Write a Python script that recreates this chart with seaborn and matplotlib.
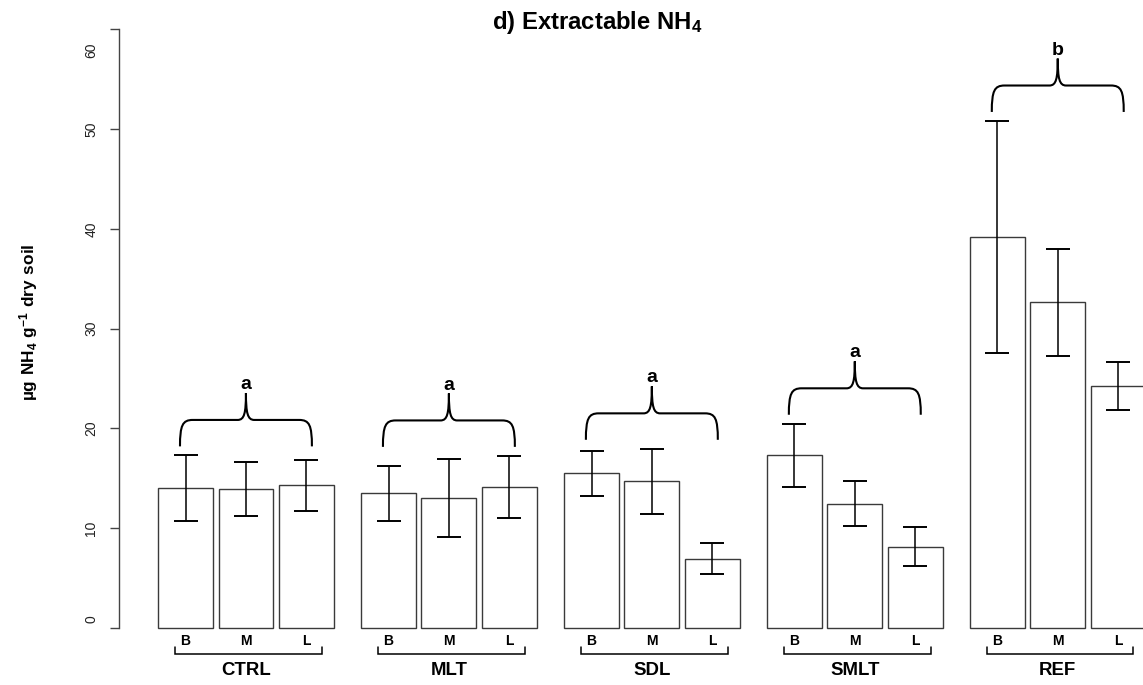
import numpy as np
import pandas as pd
import matplotlib
matplotlib.use("Agg")
import matplotlib.pyplot as plt
import matplotlib.transforms as mtransforms
from matplotlib.path import Path
from matplotlib.patches import PathPatch
import seaborn as sns

# Extractable NH4 by treatment and slope position (mean ± error)
treatments = ["CTRL", "MLT", "SDL", "SMLT", "REF"]
positions = ["B", "M", "L"]
mean_B = [14.0, 13.5, 15.5, 17.3, 39.2]
mean_M = [13.9, 13.05, 14.7, 12.45, 32.65]
mean_L = [14.3, 14.15, 6.95, 8.15, 24.25]
err_B = [3.3, 2.77, 2.24, 3.17, 11.62]
err_M = [2.72, 3.9, 3.26, 2.25, 5.38]
err_L = [2.55, 3.1, 1.55, 1.92, 2.4]
letters = ["a", "a", "a", "a", "b"]
y_ticks = [0, 10, 20, 30, 40, 50, 60]

means = {"B": mean_B, "M": mean_M, "L": mean_L}
errs = {"B": err_B, "M": err_M, "L": err_L}
df = pd.DataFrame(
    [(t, p, means[p][i]) for p in positions for i, t in enumerate(treatments)],
    columns=["treatment", "position", "value"],
)

sns.set_theme(style="white")
plt.rcParams["font.family"] = ["Liberation Sans", "DejaVu Sans"]
plt.rcParams["text.color"] = "black"
plt.rcParams["mathtext.fontset"] = "custom"
plt.rcParams["mathtext.rm"] = "Liberation Sans"
plt.rcParams["mathtext.bf"] = "Liberation Sans:bold"
plt.rcParams["mathtext.default"] = "bf"

W, H = 1143, 685
fig = plt.figure(figsize=(W / 100, H / 100), dpi=100)
ax = fig.add_axes([118.7 / W, (H - 651.9) / H, 1 - 118.7 / W, (651.9 - 5.4) / H])

sns.barplot(
    data=df, x="treatment", y="value", hue="position",
    order=treatments, hue_order=positions,
    palette=["white"] * 3, saturation=1,
    edgecolor="#3a3a3a", linewidth=1.0,
    width=0.892, gap=0.0909, errorbar=None, legend=False, ax=ax,
)

ax.set_xlim(-0.627, 4.42)
ax.set_ylim(-2.4, 62.4)

# error bars at each bar centre
for container, p in zip(ax.containers, positions):
    xs = [b.get_x() + b.get_width() / 2 for b in container]
    ys = [b.get_height() for b in container]
    ax.errorbar(xs, ys, yerr=errs[p], fmt="none", ecolor="black",
                elinewidth=1.1, capsize=8.3, capthick=1.4, zorder=4)
    # position labels under the bars
    for x in xs:
        ax.text(x, -1.3, p, ha="center", va="center", fontsize=10,
                fontweight="bold", color="black", clip_on=False)

# curly braces with significance letters above each treatment
def brace(xc, y0, half=0.325, h1=2.65, h2=2.7, cw=0.063, tw=0.041):
    yf = y0 + h1
    yp = yf + h2
    verts = [
        (xc - half, y0),
        (xc - half, y0 + 0.8 * h1), (xc - half + 0.2 * cw, yf), (xc - half + cw, yf),
        (xc - tw, yf),
        (xc - 0.2 * tw, yf), (xc, yf + 0.25 * h2), (xc, yp),
        (xc, yf + 0.25 * h2), (xc + 0.2 * tw, yf), (xc + tw, yf),
        (xc + half - cw, yf),
        (xc + half - 0.2 * cw, yf), (xc + half, y0 + 0.8 * h1), (xc + half, y0),
    ]
    codes = [Path.MOVETO,
             Path.CURVE4, Path.CURVE4, Path.CURVE4,
             Path.LINETO,
             Path.CURVE4, Path.CURVE4, Path.CURVE4,
             Path.CURVE4, Path.CURVE4, Path.CURVE4,
             Path.LINETO,
             Path.CURVE4, Path.CURVE4, Path.CURVE4]
    ax.add_patch(PathPatch(Path(verts, codes), fill=False, lw=1.5,
                           edgecolor="black", zorder=5, clip_on=False))
    return yp

for g, t in enumerate(treatments):
    top = max(m + e for m, e in zip((mean_B[g], mean_M[g], mean_L[g]),
                                    (err_B[g], err_M[g], err_L[g])))
    yp = brace(g, top + 0.9)
    ax.text(g, yp + 0.4, letters[g], ha="center", va="baseline",
            fontsize=14, fontweight="bold", color="black")
    # bracket and treatment name below the axis
    xl, xr = g - 0.351, g + 0.373
    ax.plot([xl, xl, xr, xr], [-1.87, -2.64, -2.64, -1.87], color="black",
            lw=1.1, clip_on=False, solid_joinstyle="miter")
    ax.text(g, -4.25, t, ha="center", va="center", fontsize=13.4,
            fontweight="bold", color="black", clip_on=False)

# axis styling: only a bounded left axis
for s in ("top", "right", "bottom"):
    ax.spines[s].set_visible(False)
ax.spines["left"].set_bounds(0, 60)
ax.spines["left"].set_color("#444444")
ax.spines["left"].set_linewidth(1.0)
ax.set_xticks([])
ax.set_yticks(y_ticks)
ax.set_yticklabels([str(v) for v in y_ticks], rotation=90, va="center")
ax.tick_params(axis="y", left=True, length=6.3, width=1.0, color="#444444",
               pad=8.5, labelsize=10, labelcolor="#222222")
ax.set_xlabel("")
ax.set_ylabel("")

# end labels sit inside the axis span
shift = {"60": -21, "0": 9}
for lab in ax.get_yticklabels():
    dy = shift.get(lab.get_text())
    if dy:
        lab.set_transform(lab.get_transform() +
                          mtransforms.ScaledTranslation(0, dy / 100, fig.dpi_scale_trans))

fig.text(597.5 / W, 1 - 29.3 / H, r"d) Extractable $\mathbf{NH_4}$",
         ha="center", va="baseline", fontsize=17.2, fontweight="bold",
         color="black")
fig.text(34 / W, 1 - 322 / H, r"$\mathbf{µg\ NH_4\ g^{-1}\ dry\ soil}$",
         rotation=90, rotation_mode="anchor", ha="center", va="baseline",
         fontsize=12.4, color="black")

fig.savefig("out.png", dpi=100)
